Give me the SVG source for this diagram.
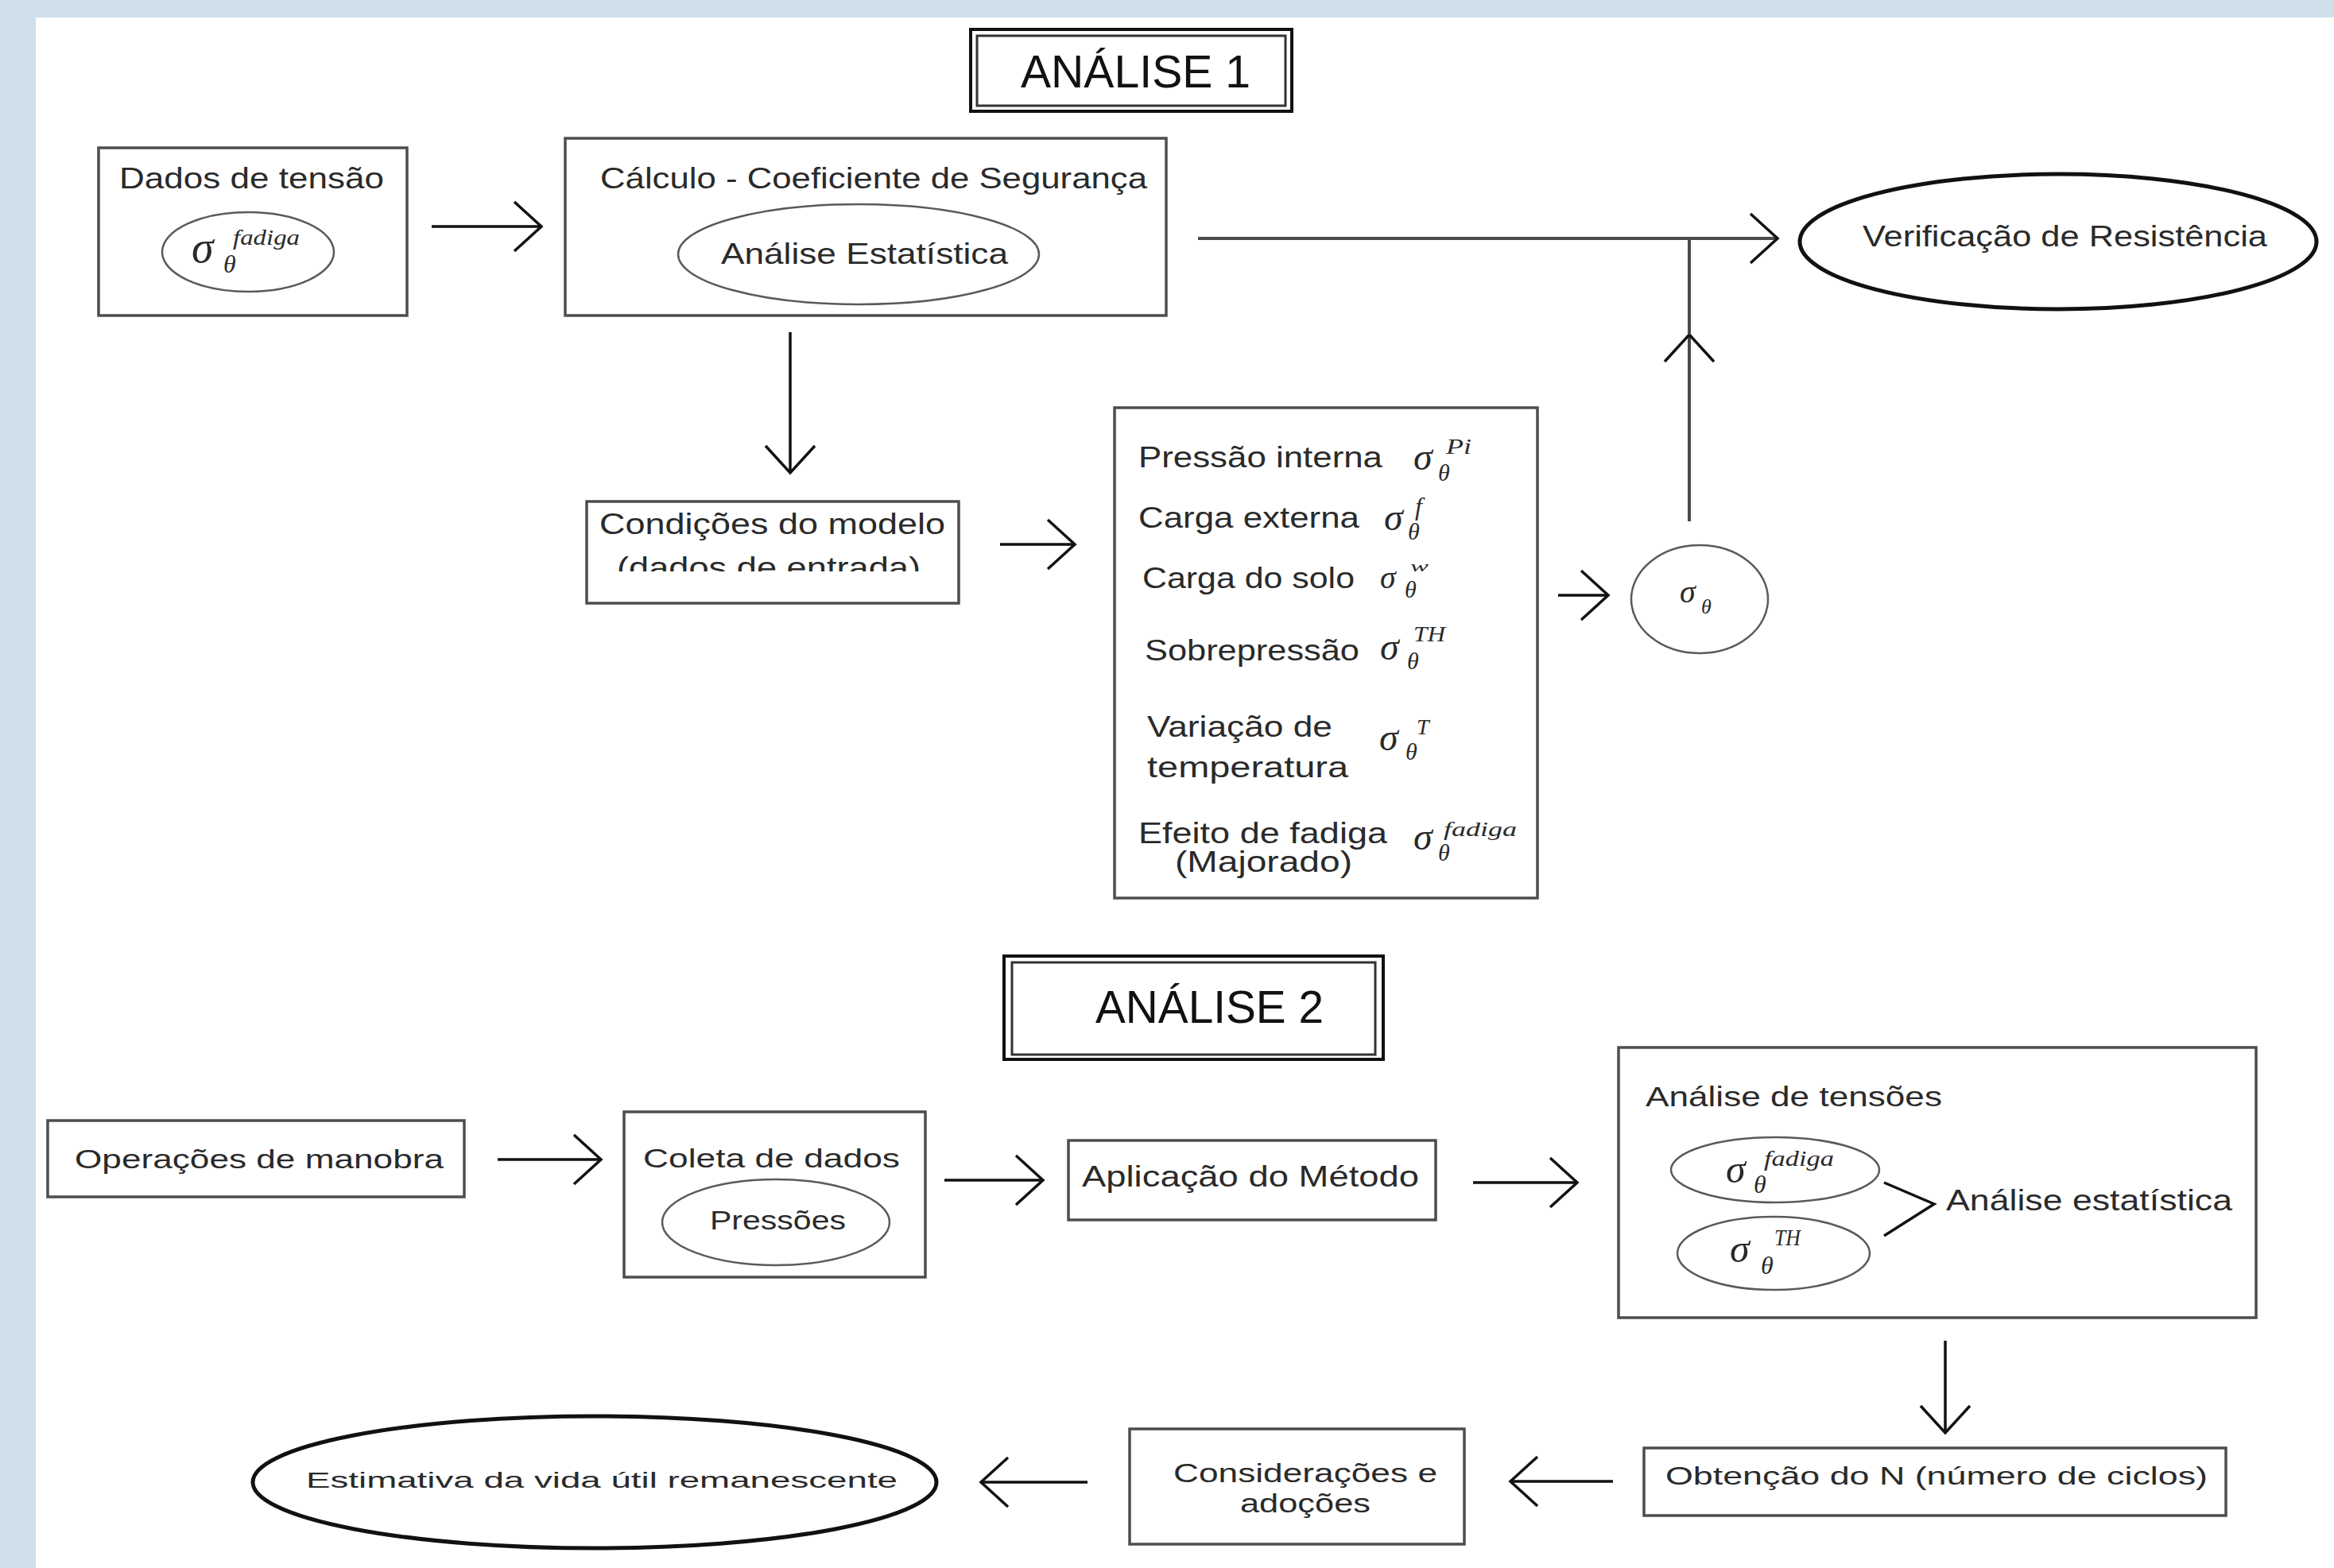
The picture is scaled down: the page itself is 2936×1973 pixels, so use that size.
<svg xmlns="http://www.w3.org/2000/svg" width="2936" height="1973" viewBox="0 0 2936 1973">
<defs>
<style>
.box{fill:#fff;stroke:#4d4d4d;stroke-width:3.5}
.ell{fill:none;stroke:#5a5a5a;stroke-width:2.5}
.bell{fill:none;stroke:#111;stroke-width:5}
.t{font-family:"Liberation Sans",Arial,sans-serif;fill:#2a2a2a;font-size:37px}
.big{font-family:"Liberation Sans",Arial,sans-serif;fill:#111;font-size:58px}
.sg{font-family:"Liberation Serif","DejaVu Serif",serif;font-style:italic;fill:#2a2a2a;font-size:48px}
.sb{font-family:"Liberation Serif","DejaVu Serif",serif;font-style:italic;fill:#2a2a2a;font-size:30px}
.sp{font-family:"Liberation Serif","DejaVu Serif",serif;font-style:italic;fill:#2a2a2a;font-size:28px}
.ln{fill:none;stroke:#111;stroke-width:3.5}
.gl{fill:none;stroke:#4a4a4a;stroke-width:4}
</style>
<marker id="chev" markerUnits="userSpaceOnUse" markerWidth="80" markerHeight="80" refX="0" refY="0" viewBox="-40 -40 80 80" orient="auto" overflow="visible">
<path d="M-34,-31 L0,0 L-34,31" fill="none" stroke="#111" stroke-width="3.5"/>
</marker>
<clipPath id="clipCond"><rect x="740" y="633" width="466" height="86"/></clipPath>
</defs>
<rect x="0" y="0" width="2936" height="1973" fill="#ffffff"/>
<rect x="0" y="0" width="2936" height="22" fill="#cfe0ec"/>
<rect x="0" y="0" width="45" height="1973" fill="#cfe0ec"/>

<g id="analise1">
<rect x="1221" y="37" width="404" height="103" fill="#fff" stroke="#111" stroke-width="4"/>
<rect x="1229" y="45" width="388" height="88" fill="none" stroke="#333" stroke-width="3"/>
<text class="big" x="1284" y="110" textLength="289" lengthAdjust="spacingAndGlyphs">ANÁLISE 1</text>
</g>

<g id="dados">
<rect class="box" x="124" y="186" width="388" height="211"/>
<text class="t" x="150" y="237" textLength="333" lengthAdjust="spacingAndGlyphs">Dados de tensão</text>
<ellipse class="ell" cx="312" cy="317" rx="108" ry="50"/>
<text class="sg" x="241" y="330" style="font-size:56px">σ</text>
<text class="sb" x="281" y="343" style="font-size:32px">θ</text>
<text class="sp" x="293" y="308" textLength="84" lengthAdjust="spacingAndGlyphs">fadiga</text>
</g>

<g id="calculo">
<rect class="box" x="711" y="174" width="756" height="223"/>
<text class="t" x="755" y="237" textLength="688" lengthAdjust="spacingAndGlyphs">Cálculo - Coeficiente de Segurança</text>
<ellipse class="ell" cx="1080" cy="320" rx="227" ry="63"/>
<text class="t" x="907" y="332" textLength="361" lengthAdjust="spacingAndGlyphs">Análise Estatística</text>
</g>

<g id="verificacao">
<ellipse class="bell" cx="2589" cy="304" rx="325" ry="85"/>
<text class="t" x="2343" y="310" textLength="509" lengthAdjust="spacingAndGlyphs">Verificação de Resistência</text>
</g>

<g id="condicoes">
<rect class="box" x="738" y="631" width="468" height="128"/>
<text class="t" x="754" y="672" textLength="435" lengthAdjust="spacingAndGlyphs">Condições do modelo</text>
<text class="t" x="776" y="727" textLength="382" lengthAdjust="spacingAndGlyphs" clip-path="url(#clipCond)">(dados de entrada)</text>
</g>

<g id="cargas">
<rect class="box" x="1402" y="513" width="532" height="617"/>
<text class="t" x="1432" y="588" textLength="307" lengthAdjust="spacingAndGlyphs">Pressão interna</text>
<text class="sg" x="1778" y="591">σ</text>
<text class="sb" x="1809" y="605">θ</text>
<text class="sp" x="1819" y="571" textLength="32" lengthAdjust="spacingAndGlyphs">Pi</text>
<text class="t" x="1432" y="664" textLength="278" lengthAdjust="spacingAndGlyphs">Carga externa</text>
<text class="sg" x="1741" y="667">σ</text>
<text class="sb" x="1771" y="679">θ</text>
<text class="sp" x="1780" y="648" style="font-size:32px">f</text>
<text class="t" x="1437" y="740" textLength="267" lengthAdjust="spacingAndGlyphs">Carga do solo</text>
<text class="sg" x="1736" y="740" style="font-size:40px">σ</text>
<text class="sb" x="1767" y="752">θ</text>
<text class="sp" x="1774" y="719" style="font-size:18px" textLength="23" lengthAdjust="spacingAndGlyphs">w</text>
<text class="t" x="1440" y="831" textLength="270" lengthAdjust="spacingAndGlyphs">Sobrepressão</text>
<text class="sg" x="1736" y="830">σ</text>
<text class="sb" x="1770" y="842">θ</text>
<text class="sp" x="1778" y="807" textLength="40" lengthAdjust="spacingAndGlyphs">TH</text>
<text class="t" x="1443" y="927" textLength="233" lengthAdjust="spacingAndGlyphs">Variação de</text>
<text class="t" x="1443" y="978" textLength="253" lengthAdjust="spacingAndGlyphs">temperatura</text>
<text class="sg" x="1735" y="944">σ</text>
<text class="sb" x="1768" y="956">θ</text>
<text class="sp" x="1782" y="924">T</text>
<text class="t" x="1432" y="1061" textLength="313" lengthAdjust="spacingAndGlyphs">Efeito de fadiga</text>
<text class="t" x="1478" y="1097" textLength="223" lengthAdjust="spacingAndGlyphs">(Majorado)</text>
<text class="sg" x="1778" y="1069">σ</text>
<text class="sb" x="1809" y="1083">θ</text>
<text class="sp" x="1816" y="1052" style="font-size:26px" textLength="92" lengthAdjust="spacingAndGlyphs">fadiga</text>
</g>

<g id="sigma">
<ellipse class="ell" cx="2138" cy="754" rx="86" ry="68"/>
<text class="sg" x="2113" y="758" style="font-size:40px">σ</text>
<text class="sb" x="2140" y="772" style="font-size:26px">θ</text>
</g>

<g id="analise2">
<rect x="1263" y="1203" width="477" height="130" fill="#fff" stroke="#111" stroke-width="4"/>
<rect x="1273" y="1211" width="457" height="116" fill="none" stroke="#333" stroke-width="3"/>
<text class="big" x="1378" y="1287" textLength="287" lengthAdjust="spacingAndGlyphs">ANÁLISE 2</text>
</g>

<g id="operacoes">
<rect class="box" x="60" y="1410" width="524" height="96"/>
<text class="t" x="94" y="1470" textLength="464" lengthAdjust="spacingAndGlyphs" style="font-size:33px">Operações de manobra</text>
</g>

<g id="coleta">
<rect class="box" x="785" y="1399" width="379" height="208"/>
<text class="t" x="809" y="1469" textLength="323" lengthAdjust="spacingAndGlyphs" style="font-size:33px">Coleta de dados</text>
<ellipse class="ell" cx="976" cy="1538" rx="143" ry="54"/>
<text class="t" x="893" y="1547" textLength="171" lengthAdjust="spacingAndGlyphs" style="font-size:34px">Pressões</text>
</g>

<g id="aplicacao">
<rect class="box" x="1344" y="1435" width="462" height="100"/>
<text class="t" x="1361" y="1493" textLength="424" lengthAdjust="spacingAndGlyphs" style="font-size:36px">Aplicação do Método</text>
</g>

<g id="tensoes">
<rect class="box" x="2036" y="1318" width="802" height="340"/>
<text class="t" x="2070" y="1392" textLength="373" lengthAdjust="spacingAndGlyphs" style="font-size:35px">Análise de tensões</text>
<ellipse class="ell" cx="2233" cy="1472" rx="131" ry="41"/>
<text class="sg" x="2171" y="1488" style="font-size:50px">σ</text>
<text class="sb" x="2206" y="1501" style="font-size:32px">θ</text>
<text class="sp" x="2219" y="1467" textLength="88" lengthAdjust="spacingAndGlyphs">fadiga</text>
<ellipse class="ell" cx="2231" cy="1577" rx="121" ry="46"/>
<text class="sg" x="2176" y="1588" style="font-size:50px">σ</text>
<text class="sb" x="2215" y="1603" style="font-size:32px">θ</text>
<text class="sp" x="2232" y="1567" style="font-size:30px" textLength="33" lengthAdjust="spacingAndGlyphs">TH</text>
<path class="ln" d="M2370,1488 L2433,1515 L2370,1555" stroke-width="3"/>
<text class="t" x="2448" y="1523" textLength="360" lengthAdjust="spacingAndGlyphs" style="font-size:36px">Análise estatística</text>
</g>

<g id="obtencao">
<rect class="box" x="2068" y="1822" width="732" height="85"/>
<text class="t" x="2095" y="1868" textLength="682" lengthAdjust="spacingAndGlyphs" style="font-size:32px">Obtenção do N (número de ciclos)</text>
</g>

<g id="consideracoes">
<rect class="box" x="1421" y="1798" width="421" height="145"/>
<text class="t" x="1476" y="1865" textLength="332" lengthAdjust="spacingAndGlyphs" style="font-size:34px">Considerações e</text>
<text class="t" x="1560" y="1903" textLength="164" lengthAdjust="spacingAndGlyphs" style="font-size:34px">adoções</text>
</g>

<g id="estimativa">
<ellipse class="bell" cx="748" cy="1865" rx="430" ry="83"/>
<text class="t" x="385" y="1872" textLength="744" lengthAdjust="spacingAndGlyphs" style="font-size:28px">Estimativa da vida útil remanescente</text>
</g>

<g id="connectors">
<line class="ln" x1="543" y1="285" x2="681" y2="285" marker-end="url(#chev)"/>
<line class="gl" x1="1507" y1="300" x2="2236" y2="300" marker-end="url(#chev)"/>
<line class="gl" x1="2125" y1="656" x2="2125" y2="421" marker-end="url(#chev)"/>
<line class="gl" x1="2125" y1="421" x2="2125" y2="300"/>
<line class="ln" x1="994" y1="418" x2="994" y2="595" marker-end="url(#chev)"/>
<line class="ln" x1="1258" y1="685" x2="1352" y2="685" marker-end="url(#chev)"/>
<line class="ln" x1="1960" y1="749" x2="2023" y2="749" marker-end="url(#chev)"/>
<line class="ln" x1="626" y1="1459" x2="756" y2="1459" marker-end="url(#chev)"/>
<line class="ln" x1="1188" y1="1485" x2="1312" y2="1485" marker-end="url(#chev)"/>
<line class="ln" x1="1853" y1="1488" x2="1984" y2="1488" marker-end="url(#chev)"/>
<line class="ln" x1="2447" y1="1687" x2="2447" y2="1803" marker-end="url(#chev)"/>
<line class="ln" x1="2029" y1="1864" x2="1900" y2="1864" marker-end="url(#chev)"/>
<line class="ln" x1="1368" y1="1865" x2="1234" y2="1865" marker-end="url(#chev)"/>
</g>
</svg>
